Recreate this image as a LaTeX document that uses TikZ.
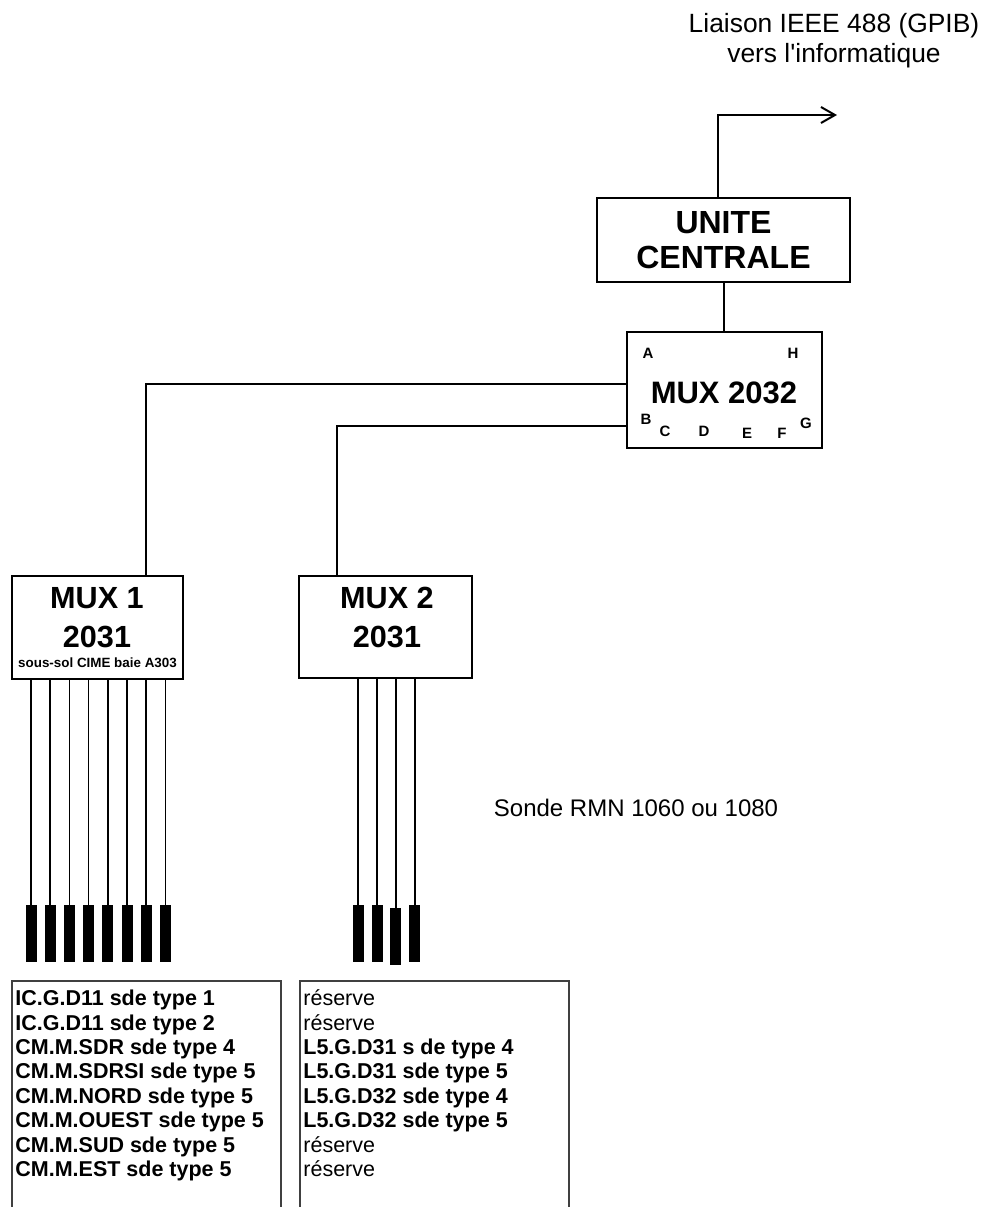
\documentclass[tikz,border=0pt]{standalone}
\usepackage{fontspec}
\setmainfont{Liberation Sans}
\usetikzlibrary{arrows.meta,positioning}
\definecolor{listgray}{RGB}{64,64,64}

\begin{document}
\begin{tikzpicture}[x=0.5pt,y=-0.5pt,
    box/.style={draw,line width=1.25pt,inner sep=0pt},
    wire/.style={line width=1pt},
    lead/.style={line width=0.75pt},
    probe/.style={fill=black,inner sep=0pt,minimum width=5.5pt,minimum height=28.5pt,anchor=north},
    big/.style={font=\bfseries\fontsize{15.3}{18}\selectfont,inner sep=0pt},
    port/.style={font=\bfseries\fontsize{7.5}{9}\selectfont,inner sep=0pt},
    entry/.style={font=\fontsize{10.75}{12.2}\selectfont,inner sep=0pt,anchor=base west}]
  \useasboundingbox (0,0) rectangle (984,1207);

  % central unit and GPIB link
  \node[box,minimum width=126.5pt,minimum height=42pt,align=center,
        font=\bfseries\fontsize{16}{17.5}\selectfont] (unite) at (723.5,240) {UNITE\\CENTRALE};
  \coordinate (gpib) at (837,115);
  \draw[wire,-{Straight Barb[length=7pt,width=8pt]}] ([xshift=-2.75pt]unite.north) |- (gpib);
  \node[align=center,inner sep=0pt,anchor=north,font=\fontsize{13.2}{15}\selectfont] (link) at (834,13)
    {Liaison IEEE 488 (GPIB)\\vers l\textquotesingle informatique};

  % MUX 2032
  \node[box,minimum width=97.5pt,minimum height=58pt] (mux0) at (724.5,390) {};
  \node[font=\bfseries\fontsize{15.5}{18}\selectfont,inner sep=0pt] (mux0-t) at (724,393) {MUX 2032};
  \foreach \ch/\px/\py in {A/648/353,H/793/353,B/646/419,C/665/431,D/704/431,E/747/433,F/782/433,G/806/423}
    \node[port] (port-\ch) at (\px,\py) {\ch};
  \draw[wire] (unite.south) -- (unite.south |- mux0.north);

  % MUX 1 and MUX 2
  \node[box,minimum width=85.5pt,minimum height=51.5pt] (mux1) at (97.5,627.5) {};
  \node[big] (mux1-a) at (97,598) {MUX 1};
  \node[big] (mux1-b) at (97,637) {2031};
  \node[font=\bfseries\fontsize{6.7}{8}\selectfont,inner sep=0pt] (mux1-c) at (97.5,663) {sous-sol CIME baie A303};
  \node[box,minimum width=86.5pt,minimum height=51pt] (mux2) at (385.5,627) {};
  \node[big] (mux2-a) at (387,598) {MUX 2};
  \node[big] (mux2-b) at (387,637) {2031};
  \draw[wire] ([yshift=3pt]mux0.west) -| ([xshift=24.25pt]mux1.north);
  \draw[wire] ([yshift=-18pt]mux0.west) -| ([xshift=-24.25pt]mux2.north);

  % probes
  \foreach \i in {1,...,8}{
    \node[probe] (pa-\i) at ({31+19.2*(\i-1)},905) {};
    \draw[lead] (pa-\i.north) -- (pa-\i.north |- mux1.south);
  }
  \foreach \i/\dy in {1/0,2/0,3/3,4/0}{
    \node[probe] (pb-\i) at ({358.2+18.85*(\i-1)},{905+\dy}) {};
    \draw[lead] (pb-\i.north) -- (pb-\i.north |- mux2.south);
  }
  \node[font=\fontsize{12}{14}\selectfont,inner sep=0pt] (sonde) at (636,808) {Sonde RMN 1060 ou 1080};

  % probe lists
  \draw[line width=1pt,listgray] (12,1215) |- (280.5,981) -- (280.5,1215);
  \draw[line width=1pt,listgray] (300,1215) |- (568.5,981) -- (568.5,1215);
  \foreach \txt [count=\i] in {IC.G.D11 sde type 1,IC.G.D11 sde type 2,CM.M.SDR sde type 4,
      CM.M.SDRSI sde type 5,CM.M.NORD sde type 5,CM.M.OUEST sde type 5,CM.M.SUD sde type 5,
      CM.M.EST sde type 5}
    \node[entry] (la-\i) at (15,{1005.7+24.4*(\i-1)}) {\bfseries\txt};
  \foreach \txt [count=\i] in {réserve,réserve,\textbf{L5.G.D31 s de type 4},\textbf{L5.G.D31 sde type 5},
      \textbf{L5.G.D32 sde type 4},\textbf{L5.G.D32 sde type 5},réserve,réserve}
    \node[entry] (lb-\i) at (303,{1005.7+24.4*(\i-1)}) {\txt};
\end{tikzpicture}
\end{document}
